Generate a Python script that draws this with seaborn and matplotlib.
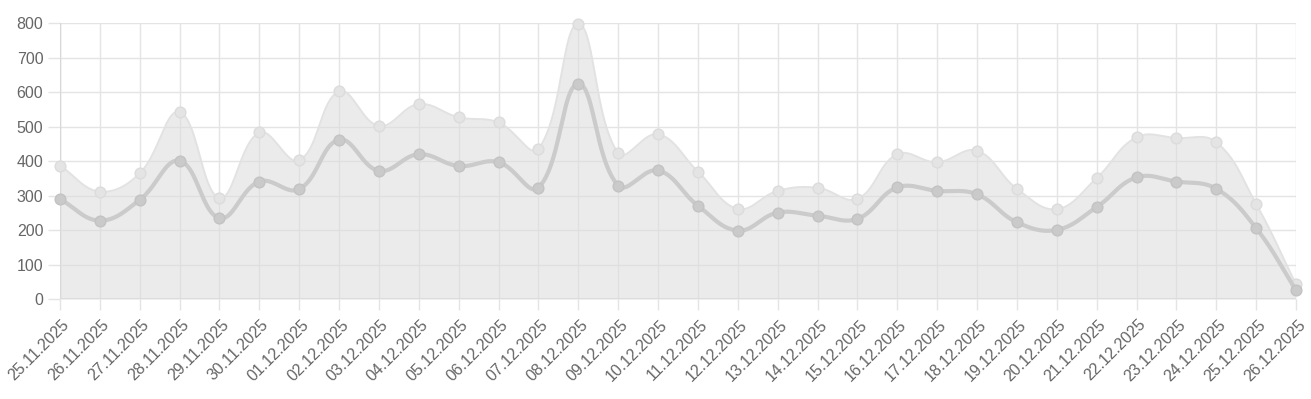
import numpy as np
import pandas as pd
import matplotlib
matplotlib.use("Agg")
import matplotlib.pyplot as plt
import matplotlib.transforms as mtrans
import seaborn as sns

dates = ["25.11.2025", "26.11.2025", "27.11.2025", "28.11.2025", "29.11.2025", "30.11.2025",
         "01.12.2025", "02.12.2025", "03.12.2025", "04.12.2025", "05.12.2025", "06.12.2025",
         "07.12.2025", "08.12.2025", "09.12.2025", "10.12.2025", "11.12.2025", "12.12.2025",
         "13.12.2025", "14.12.2025", "15.12.2025", "16.12.2025", "17.12.2025", "18.12.2025",
         "19.12.2025", "20.12.2025", "21.12.2025", "22.12.2025", "23.12.2025", "24.12.2025",
         "25.12.2025", "26.12.2025"]
upper = [387, 312, 365, 542, 293, 483, 402, 602, 502, 565, 527, 512, 436, 798, 423, 478,
         370, 262, 314, 323, 291, 420, 397, 430, 320, 261, 351, 469, 467, 455, 276, 44]
lower = [290, 228, 288, 401, 235, 341, 319, 462, 372, 420, 386, 397, 323, 624, 329, 373,
         271, 199, 251, 242, 233, 324, 314, 304, 223, 201, 267, 353, 341, 320, 206, 27]
yticks = [0, 100, 200, 300, 400, 500, 600, 700, 800]

W, H, DPI = 1311, 399, 100
L, R, T, B = 60, 1296, 23, 299.3
PX_X = (R - L) / (len(dates) - 1)
PX_Y = (B - T) / 800.0


def spline(vals, tension=0.4, steps=24):
    """Chart.js-style bezier spline through the data, computed in pixel space."""
    n = len(vals)
    px = np.arange(n) * PX_X
    py = np.array(vals, dtype=float) * PX_Y
    cps = []
    for i in range(n):
        p0 = i - 1 if i > 0 else i
        p2 = i + 1 if i < n - 1 else i
        d01 = np.hypot(px[i] - px[p0], py[i] - py[p0])
        d12 = np.hypot(px[p2] - px[i], py[p2] - py[i])
        tot = d01 + d12
        s01 = d01 / tot if tot else 0
        s12 = d12 / tot if tot else 0
        fa, fb = tension * s01, tension * s12
        prev = (px[i] - fa * (px[p2] - px[p0]), py[i] - fa * (py[p2] - py[p0]))
        nxt = (px[i] + fb * (px[p2] - px[p0]), py[i] + fb * (py[p2] - py[p0]))
        prev = (prev[0], min(max(prev[1], 0), 800 * PX_Y))
        nxt = (nxt[0], min(max(nxt[1], 0), 800 * PX_Y))
        cps.append((prev, nxt))
    xs, ys = [], []
    t = np.linspace(0, 1, steps, endpoint=False)
    for i in range(n - 1):
        P0 = np.array([px[i], py[i]])
        P1 = np.array(cps[i][1])
        P2 = np.array(cps[i + 1][0])
        P3 = np.array([px[i + 1], py[i + 1]])
        pts = ((1 - t) ** 3)[:, None] * P0 + (3 * (1 - t) ** 2 * t)[:, None] * P1 \
            + (3 * (1 - t) * t ** 2)[:, None] * P2 + (t ** 3)[:, None] * P3
        xs.extend(pts[:, 0]); ys.extend(pts[:, 1])
    xs.append(px[-1]); ys.append(py[-1])
    return np.array(xs) / PX_X, np.array(ys) / PX_Y


sns.set_theme(style="white")
plt.rcParams["font.family"] = ["Liberation Sans", "DejaVu Sans"]

fig = plt.figure(figsize=(W / DPI, H / DPI), dpi=DPI)
ax = fig.add_axes([L / W, 1 - B / H, (R - L) / W, (B - T) / H])

grid_c = "#e4e4e4"
ax.set_xlim(0, len(dates) - 1)
ax.set_ylim(0, 800)
ax.set_xticks(np.arange(len(dates)))
ax.set_yticks(yticks)
ax.grid(True, color=grid_c, linewidth=1.0, zorder=0)
ax.set_axisbelow(True)
for s in ax.spines.values():
    s.set_visible(False)
ax.axhline(0, color="#d8d8d8", lw=1.2, zorder=1)
ax.axvline(0, color="#d8d8d8", lw=1.0, zorder=1)

ux, uy = spline(upper)
lx, ly = spline(lower)
ax.fill_between(ux, 0, uy, color=(220 / 255, 220 / 255, 220 / 255), alpha=0.55, lw=0, zorder=2)

df_u = pd.DataFrame({"x": ux, "y": uy})
df_l = pd.DataFrame({"x": lx, "y": ly})
sns.lineplot(data=df_u, x="x", y="y", ax=ax, color="#e2e2e2", lw=1.4, sort=False, zorder=3)
pts_u = pd.DataFrame({"x": np.arange(len(dates)), "y": upper})
sns.scatterplot(data=pts_u, x="x", y="y", ax=ax, s=60, color="#e4e4e4", edgecolor="#dcdcdc",
                linewidth=1.0, zorder=4, clip_on=False)
sns.lineplot(data=df_l, x="x", y="y", ax=ax, color="#cbcbcb", lw=3.0, sort=False, zorder=5)
pts_l = pd.DataFrame({"x": np.arange(len(dates)), "y": lower})
sns.scatterplot(data=pts_l, x="x", y="y", ax=ax, s=60, color="#cacaca", edgecolor="#c3c3c3",
                linewidth=1.0, zorder=6, clip_on=False)

ax.set_xlabel("")
ax.set_ylabel("")
ax.set_xticklabels(dates, rotation=45, ha="right", va="center", rotation_mode="anchor")
ax.tick_params(axis="x", length=8, width=1, color=grid_c, pad=2, labelsize=11.5, labelcolor="#666666")
ax.tick_params(axis="y", length=8.5, width=1, color=grid_c, pad=3.5, labelsize=11.5, labelcolor="#666666")
ax.tick_params(bottom=True, left=True)
shift = mtrans.ScaledTranslation(7 / DPI, -9 / DPI, fig.dpi_scale_trans)
for lab in ax.get_xticklabels():
    lab.set_transform(lab.get_transform() + shift)

fig.savefig("out.png", dpi=DPI)
